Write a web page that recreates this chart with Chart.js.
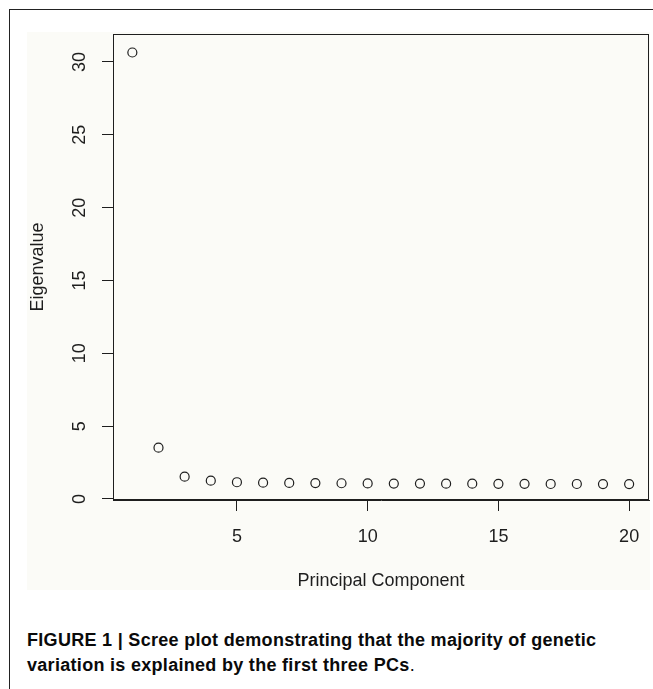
<!DOCTYPE html>
<html>
<head>
<meta charset="utf-8">
<script src="https://cdn.jsdelivr.net/npm/chart.js@4/dist/chart.umd.min.js"></script>
<style>
  html, body { margin: 0; padding: 0; background: #fff; }
  body { width: 653px; height: 689px; position: relative; overflow: hidden; }
  #frame { position: absolute; left: 9px; top: 9px; width: 660px; height: 700px;
           border-top: 1px solid #222; border-left: 1px solid #222; }
  #panel { position: absolute; left: 27px; top: 32px; width: 623px; height: 558px; background: #fbfbf7; }
  #caption { position: absolute; left: 27px; top: 628px; font-family: "Liberation Sans", Arial, sans-serif;
             font-size: 18px; letter-spacing: 0.3px; line-height: 25px; color: #0a0a0a; white-space: nowrap; }
  #caption b { font-weight: bold; }
</style>
</head>
<body>
<div id="frame"></div>
<div id="panel"><canvas id="scree" width="623" height="558"></canvas></div>
<div id="caption"><b>FIGURE 1 | Scree plot demonstrating that the majority of genetic<br>variation is explained by the first three PCs</b>.</div>
<script>
// principal components and their eigenvalues
const components = [1, 2, 3, 4, 5, 6, 7, 8, 9, 10, 11, 12, 13, 14, 15, 16, 17, 18, 19, 20];
const eigenvalues = [30.65, 3.52, 1.53, 1.26, 1.15, 1.12, 1.1, 1.09, 1.08, 1.07, 1.06, 1.06, 1.05, 1.05, 1.04, 1.04, 1.03, 1.03, 1.02, 1.02];
const xTicks = [5, 10, 15, 20];
const yTicks = [0, 5, 10, 15, 20, 25, 30];

const ink = "#1e1e1e";
const font = "Liberation Sans";

// R-style box around the plot + rotated y labels
const rPlot = {
    id: "rPlot",
    afterDraw(chart) {
        const c = chart.ctx, a = chart.chartArea, y = chart.scales.y;
        c.save();
        c.strokeStyle = ink;
        c.lineWidth = 1;
        c.strokeRect(Math.round(a.left) + 0.5, Math.round(a.top) + 0.5,
                     Math.round(a.right - a.left) - 1, Math.round(a.bottom - a.top) - 1);
        c.fillStyle = ink;
        c.font = "18px '" + font + "'";
        c.textAlign = "center";
        c.textBaseline = "alphabetic";
        yTicks.forEach(v => {
            const py = y.getPixelForValue(v);
            c.save();
            c.translate(58, py);
            c.rotate(-Math.PI / 2);
            c.fillText(String(v), 0, 0);
            c.restore();
        });
        c.restore();
    }
};

new Chart(document.getElementById("scree"), {
    type: "scatter",
    data: {
        datasets: [{
            data: components.map((x, i) => ({ x: x, y: eigenvalues[i] })),
            pointStyle: "circle",
            pointRadius: 4.5,
            pointBorderWidth: 1.2,
            pointBorderColor: ink,
            pointBackgroundColor: "rgba(0,0,0,0)"
        }]
    },
    options: {
        responsive: false,
        animation: false,
        events: [],
        layout: { autoPadding: false, padding: { top: 2, right: 1, left: 0, bottom: 0 } },
        plugins: { legend: { display: false }, tooltip: { enabled: false } },
        scales: {
            x: {
                type: "linear",
                min: 0.26, max: 20.76,
                afterBuildTicks: s => { s.ticks = xTicks.map(v => ({ value: v })); },
                afterFit: s => { s.height = 90; s.paddingLeft = 0; s.paddingRight = 0; },
                grid: { drawOnChartArea: false, drawTicks: true, tickLength: 11, color: ink },
                border: { display: true, color: ink },
                ticks: { font: { family: font, size: 18 }, color: ink, padding: 15, maxRotation: 0 },
                title: { display: true, text: "Principal Component", font: { family: font, size: 18 }, color: ink,
                         padding: { top: 0, bottom: -2 } }
            },
            y: {
                type: "linear",
                min: -0.07, max: 31.92,
                afterBuildTicks: s => { s.ticks = yTicks.map(v => ({ value: v })); },
                afterFit: s => { s.width = 86; s.paddingTop = 0; s.paddingBottom = 0; },
                grid: { drawOnChartArea: false, drawTicks: true, tickLength: 11, color: ink },
                border: { display: true, color: ink },
                ticks: { display: false },
                title: { display: true, text: "Eigenvalue", font: { family: font, size: 18 }, color: ink,
                         padding: { top: 0, bottom: 0 } }
            }
        }
    },
    plugins: [rPlot]
});
</script>
</body>
</html>
